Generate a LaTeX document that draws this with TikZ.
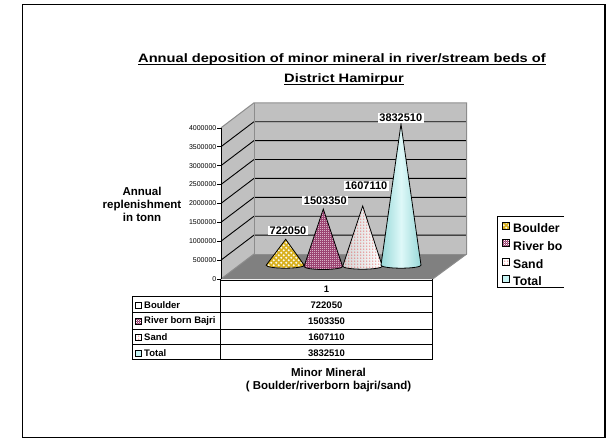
\documentclass[tikz,border=0pt]{standalone}
\usepackage{fontspec}
\setmainfont{Liberation Sans}
\newfontface\titlefont[FakeStretch=1.2]{Liberation Sans Bold}
\usetikzlibrary{patterns}
\definecolor{wallgrey}{HTML}{C0C0C0}
\definecolor{floorgrey}{HTML}{808080}
\definecolor{edgegrey}{HTML}{8C8C8C}
\definecolor{boulderc}{HTML}{D8B01E}
\definecolor{riverc}{HTML}{8E2A5E}
\definecolor{sandc}{HTML}{E02020}
\definecolor{totalc}{HTML}{C8F4F4}
\definecolor{totald}{HTML}{98D8D8}
\pgfdeclarepatternformonly{finecheck}{\pgfqpoint{0pt}{0pt}}{\pgfqpoint{2pt}{2pt}}{\pgfqpoint{2pt}{2pt}}{%
  \pgfpathrectangle{\pgfqpoint{0pt}{0pt}}{\pgfqpoint{1pt}{1pt}}%
  \pgfpathrectangle{\pgfqpoint{1pt}{1pt}}{\pgfqpoint{1pt}{1pt}}%
  \pgfusepath{fill}}
\pgfdeclarepatternformonly{blobs}{\pgfqpoint{-1pt}{-1pt}}{\pgfqpoint{6pt}{6pt}}{\pgfqpoint{5pt}{5pt}}{%
  \pgfpathcircle{\pgfqpoint{1.25pt}{1.25pt}}{1.15pt}%
  \pgfpathcircle{\pgfqpoint{3.75pt}{3.75pt}}{1.15pt}%
  \pgfusepath{fill}}
\pgfdeclarepatternformonly{reddots}{\pgfqpoint{-1pt}{-1pt}}{\pgfqpoint{3pt}{3pt}}{\pgfqpoint{3pt}{3pt}}{%
  \pgfpathcircle{\pgfqpoint{0.75pt}{0.75pt}}{0.5pt}%
  \pgfusepath{fill}}
\tikzset{
  fnt/.style={font=\fontsize{#1}{#1}\selectfont\bfseries},
  gridline/.style={draw=black, line width=0.9pt},
  walledge/.style={draw=edgegrey, line width=1pt},
  conebox/.style={draw=black, line width=0.8pt},
  boulderfill/.style={fill=boulderc, postaction={pattern=blobs, pattern color=white!90!boulderc}},
  riverfill/.style={fill=riverc, postaction={pattern=finecheck, pattern color=white}},
  sandfill/.style={left color=gray!35, right color=white, postaction={pattern=reddots, pattern color=sandc}},
  sandsym/.style={fill=white, postaction={pattern=reddots, pattern color=sandc}},
  totalfill/.style={left color=totald, right color=totald, middle color=totalc!60!white},
  datalabel/.style={fnt=11, fill=white, inner xsep=1.5pt, inner ysep=1pt},
  ticklabel/.style={font=\fontsize{7}{7}\selectfont, anchor=east, inner sep=0.5pt},
  tabcell/.style={fnt=9.5, inner sep=0pt},
  legtext/.style={fnt=12.3, anchor=west, inner sep=0pt},
  symb/.style={draw=black, line width=0.8pt, minimum width=7pt, minimum height=7pt, inner sep=0pt},
  reborder/.style={postaction={draw=black, line width=0.8pt}},
}
\newcommand{\drawcone}[6]{% apex x, apex y, center x, half width, base y, style
  \path[#6] (#3-#4,#5) -- (#1,#2) -- (#3+#4,#5) arc[start angle=0, end angle=-180, x radius=#4pt, y radius=3pt] -- cycle;
  \draw[conebox] (#3-#4,#5) -- (#1,#2) -- (#3+#4,#5) arc[start angle=0, end angle=-180, x radius=#4pt, y radius=3pt] -- cycle;
}
\begin{document}
\begin{tikzpicture}[x=1pt, y=-1pt]
\useasboundingbox (0,0) rectangle (606,439);
\fill[white] (0,0) rectangle (606,439);
% outer frame
\draw[line width=1.5pt] (22.5,4.5) rectangle (604.8,437.5);

% title
\node[font=\fontsize{12.2}{12.2}\selectfont\titlefont, anchor=base, inner sep=0pt] (title1) at (342,62.5) {Annual deposition of minor mineral in river/stream beds of};
\node[font=\fontsize{12.2}{12.2}\selectfont\titlefont, anchor=base, inner sep=0pt] (title2) at (344,82.5) {District Hamirpur\ };
\draw[line width=1.3pt] ([yshift=-2.2pt]title1.base west) -- ([yshift=-2.2pt]title1.base east);
\draw[line width=1.3pt] ([yshift=-2.2pt]title2.base west) -- ([yshift=-2.2pt]title2.base east);

% walls
\coordinate (ftop) at (221,127.8);
\coordinate (fbot) at (221,279);
\coordinate (btl) at (254,102.8);
\coordinate (btr) at (466.7,102.8);
\coordinate (bbl) at (254,254);
\coordinate (bbr) at (466.7,254);
\coordinate (ffr) at (432.7,279);
\fill[wallgrey] (ftop) -- (btl) -- (bbl) -- (fbot) -- cycle;
\fill[wallgrey] (btl) -- (btr) -- (bbr) -- (bbl) -- cycle;
\fill[floorgrey] (fbot) -- (bbl) -- (bbr) -- (ffr) -- cycle;
\foreach \k in {1,...,7} {
  \draw[gridline] (221,{279-18.9*\k}) -- (254,{254-18.9*\k}) -- (466.7,{254-18.9*\k});
}
\draw[walledge] (ftop) -- (btl) -- (btr) -- (bbr) -- (ffr);
\draw[walledge] (btl) -- (bbl) -- (bbr);
\draw[walledge] (fbot) -- (bbl);
\draw[line width=0.9pt] (ftop) -- (fbot);

% ticks and labels
\foreach \v [count=\k from 0] in {0,500000,1000000,1500000,2000000,2500000,3000000,3500000,4000000} {
  \draw[line width=0.6pt] (217,{279-18.9*\k}) -- (221,{279-18.9*\k});
  \node[ticklabel] (tick\k) at (217,{279-18.9*\k}) {\v};
}

% axis title
\node[fnt=11.5, align=center, inner sep=0pt] (ytitle) at (142,204.5) {Annual\\[1.3pt]replenishment\\[1.3pt]in tonn};

% cones
\drawcone{285.7}{239.3}{285.2}{19}{265.2}{boulderfill}
\drawcone{323.3}{209}{323.3}{19.3}{266.5}{riverfill}
\drawcone{362.7}{206}{362.5}{19.8}{266.2}{sandfill}
\drawcone{401}{124}{401}{20}{265.2}{totalfill}

% data labels
\node[datalabel] (lb1) at (288,230.5) {722050};
\node[datalabel] (lb2) at (325.3,200.5) {1503350};
\node[datalabel] (lb3) at (366.2,186.2) {1607110};
\node[datalabel] (lb4) at (400.8,117.8) {3832510};

% table
\draw[line width=0.9pt] (220,280) -- (432.7,280);
\draw[line width=0.9pt] (132.3,296) -- (432.7,296);
\draw[line width=0.9pt] (132.3,312.7) -- (432.7,312.7);
\draw[line width=0.9pt] (132.3,329) -- (432.7,329);
\draw[line width=0.9pt] (132.3,344.7) -- (432.7,344.7);
\draw[line width=0.9pt] (132.3,359.3) -- (432.7,359.3);
\draw[line width=0.9pt] (132.3,296) -- (132.3,359.3);
\draw[line width=0.9pt] (220,279) -- (220,359.3);
\draw[line width=0.9pt] (432.7,279) -- (432.7,359.3);

\node[tabcell] (h1) at (326.5,289) {1};
\node[symb, minimum size=6pt, fill=white] (s1) at (138,305) {};
\node[symb, minimum size=6pt, riverfill, reborder] (s2) at (138,321) {};
\node[symb, minimum size=6pt, sandsym, reborder] (s3) at (138,337.2) {};
\node[symb, minimum size=6pt, fill=totalc] (s4) at (138,353) {};
\node[tabcell, anchor=west] (r1) at (144,305) {Boulder};
\node[tabcell, anchor=west] (r2) at (144,321) {River born Bajri};
\node[tabcell, anchor=west] (r3) at (144,337.2) {Sand};
\node[tabcell, anchor=west] (r4) at (144,353) {Total};
\node[tabcell] (v1) at (326.5,305) {722050};
\node[tabcell] (v2) at (326.5,321) {1503350};
\node[tabcell] (v3) at (326.5,337.2) {1607110};
\node[tabcell] (v4) at (326.5,353) {3832510};

% x axis title
\node[fnt=11.5, inner sep=0pt] (xt1) at (328.5,372.5) {Minor Mineral};
\node[fnt=11.5, inner sep=0pt] (xt2) at (328.5,387) {( Boulder/riverborn bajri/sand)};

% legend
\draw[line width=1pt] (564,216.5) -- (497.5,216.5) -- (497.5,287) -- (564,287);
\node[symb, boulderfill, reborder] (g1) at (505.5,225.5) {};
\node[symb, riverfill, reborder] (g2) at (505.5,243) {};
\node[symb, sandsym, reborder] (g3) at (505.5,261.5) {};
\node[symb, fill=totalc] (g4) at (505.5,279) {};
\node[legtext] (t1) at (513,228.5) {Boulder};
\node[legtext] (t2) at (513,245.8) {River bo};
\node[legtext] (t3) at (513,264) {Sand};
\node[legtext] (t4) at (513,281.5) {Total};
\end{tikzpicture}
\end{document}
